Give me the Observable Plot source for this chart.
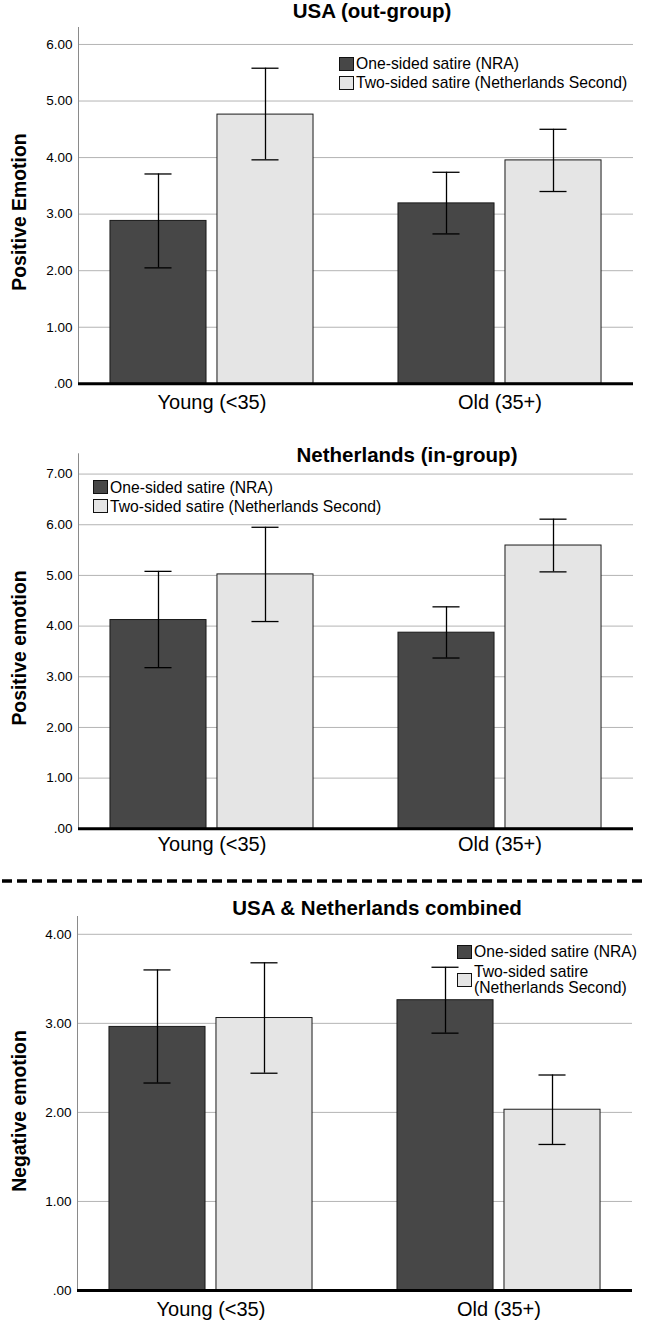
<!DOCTYPE html>
<html><head><meta charset="utf-8">
<script src="https://cdn.jsdelivr.net/npm/d3@7"></script>
<script src="https://cdn.jsdelivr.net/npm/@observablehq/plot@0.6"></script>
<style>
html,body{margin:0;padding:0;background:#fff;}
#root{position:relative;width:646px;height:1321px;overflow:hidden;font-family:"Liberation Sans",Arial,sans-serif;color:#000;}
#root svg.plot{position:absolute;left:0;}
.abs{position:absolute;}
.title{font-weight:bold;font-size:20.5px;line-height:20px;white-space:nowrap;transform:translateX(-50%);}
.ylab{font-weight:bold;font-size:19.4px;line-height:19.4px;white-space:nowrap;transform:translate(-50%,-50%) rotate(-90deg);}
.leg{display:flex;align-items:center;font-size:15.7px;white-space:nowrap;}
.sw{width:15px;height:14px;box-sizing:border-box;border:1px solid #111;margin-right:2px;flex:none;}
</style></head><body><div id="root"></div><script>
// ---------- data ----------
const groups = ["Young (<35)", "Old (35+)"];
const conditions = ["One-sided satire (NRA)", "Two-sided satire (Netherlands Second)"];
const barColors = ["#474747", "#e5e5e5"];

// order of values: Young/One-sided, Young/Two-sided, Old/One-sided, Old/Two-sided
const usaMean = [2.88, 4.76, 3.19, 3.95];
const usaLow  = [2.05, 3.96, 2.65, 3.40];
const usaHigh = [3.71, 5.58, 3.74, 4.50];
const usaTicks = [0, 1, 2, 3, 4, 5, 6];

const nlMean = [4.12, 5.02, 3.87, 5.59];
const nlLow  = [3.18, 4.09, 3.37, 5.07];
const nlHigh = [5.08, 5.95, 4.38, 6.11];
const nlTicks = [0, 1, 2, 3, 4, 5, 6, 7];

const combMean = [2.96, 3.06, 3.26, 2.03];
const combLow  = [2.33, 2.44, 2.89, 1.64];
const combHigh = [3.60, 3.68, 3.63, 2.42];
const combTicks = [0, 1, 2, 3, 4];

const titles = ["USA (out-group)", "Netherlands (in-group)", "USA & Netherlands combined"];
const yLabels = ["Positive Emotion", "Positive emotion", "Negative emotion"];

// ---------- helpers ----------
function rows(mean, low, high) {
  return mean.map((m, i) => ({group: groups[Math.floor(i / 2)], cond: conditions[i % 2], mean: m, lo: low[i], hi: high[i]}));
}
const fmt = d => d === 0 ? ".00" : d.toFixed(2);
const root = document.getElementById("root");

function panel(data, ticks, L) {
  const one = data.filter(d => d.cond === conditions[0]);
  const two = data.filter(d => d.cond === conditions[1]);
  const svg = Plot.plot({
    width: 646, height: L.height,
    marginTop: L.mt, marginBottom: L.mb, marginLeft: L.ml, marginRight: L.mr,
    style: {fontFamily: "'Liberation Sans', Arial, sans-serif", background: "transparent", color: "#000", overflow: "visible"},
    x: {domain: groups, paddingInner: 0.295, paddingOuter: 0.111, round: false, label: null},
    y: {domain: [0, L.yMax], label: null},
    color: {domain: conditions, range: barColors},
    marks: [
      Plot.gridY(ticks.filter(t => t > 0), {stroke: "#b4b4b4", strokeOpacity: 1, strokeWidth: 1}),
      Plot.frame({anchor: "left", stroke: "#8a8a8a", strokeWidth: 1}),
      Plot.barY(one, {x: "group", y: "mean", fill: "cond", stroke: "#1a1a1a", strokeWidth: 1, insetRight: 107}),
      Plot.barY(two, {x: "group", y: "mean", fill: "cond", stroke: "#1a1a1a", strokeWidth: 1, insetLeft: 107}),
      Plot.ruleX(one, {x: "group", y1: "lo", y2: "hi", dx: -53.5, stroke: "#000", strokeWidth: 1.3}),
      Plot.ruleX(two, {x: "group", y1: "lo", y2: "hi", dx: 53.5, stroke: "#000", strokeWidth: 1.3}),
      Plot.tickY(one, {x: "group", y: "hi", insetLeft: 34.5, insetRight: 141.5, stroke: "#000", strokeWidth: 1.3}),
      Plot.tickY(one, {x: "group", y: "lo", insetLeft: 34.5, insetRight: 141.5, stroke: "#000", strokeWidth: 1.3}),
      Plot.tickY(two, {x: "group", y: "hi", insetLeft: 141.5, insetRight: 34.5, stroke: "#000", strokeWidth: 1.3}),
      Plot.tickY(two, {x: "group", y: "lo", insetLeft: 141.5, insetRight: 34.5, stroke: "#000", strokeWidth: 1.3}),
      Plot.ruleY([0], {stroke: "#000", strokeWidth: 3}),
      Plot.axisY(ticks, {tickSize: 0, tickPadding: 6, fontSize: 13.5, tickFormat: fmt, label: null, fill: "#000"}),
      Plot.axisX({tickSize: 0, tickPadding: L.labelPad, fontSize: 20, label: null, fill: "#000"})
    ]
  });
  svg.classList.add("plot");
  svg.style.top = L.top + "px";
  root.appendChild(svg);
}

function addDiv(cls, text, left, top) {
  const d = document.createElement("div");
  d.className = "abs " + cls;
  d.style.left = left + "px";
  d.style.top = top + "px";
  d.textContent = text;
  root.appendChild(d);
  return d;
}

function legendItem(condIndex, lines, left, top, lineHeight) {
  const d = document.createElement("div");
  d.className = "abs leg";
  d.style.left = left + "px";
  d.style.top = top + "px";
  d.style.lineHeight = lineHeight + "px";
  const sw = document.createElement("div");
  sw.className = "sw";
  sw.style.background = barColors[condIndex];
  const t = document.createElement("div");
  lines.forEach((ln, i) => { if (i) t.appendChild(document.createElement("br")); t.appendChild(document.createTextNode(ln)); });
  d.appendChild(sw); d.appendChild(t);
  root.appendChild(d);
}

// ---------- panels ----------
panel(rows(usaMean, usaLow, usaHigh), usaTicks,
  {top: 0, height: 420, mt: 27, mb: 36.7, ml: 78, mr: 13, yMax: 6.3, labelPad: 10.7});
panel(rows(nlMean, nlLow, nlHigh), nlTicks,
  {top: 420, height: 440, mt: 33.3, mb: 31.7, ml: 78, mr: 13, yMax: 7.4, labelPad: 8.4});
panel(rows(combMean, combLow, combHigh), combTicks,
  {top: 890, height: 431, mt: 26, mb: 31, ml: 77, mr: 14, yMax: 4.2, labelPad: 11.7});

// dashed separator
const ns = "http://www.w3.org/2000/svg";
const sep = document.createElementNS(ns, "svg");
sep.setAttribute("width", 646); sep.setAttribute("height", 10);
sep.style.position = "absolute"; sep.style.left = "0px"; sep.style.top = "876px";
const ln = document.createElementNS(ns, "line");
ln.setAttribute("x1", 2); ln.setAttribute("x2", 646); ln.setAttribute("y1", 5); ln.setAttribute("y2", 5);
ln.setAttribute("stroke", "#000"); ln.setAttribute("stroke-width", 3.5); ln.setAttribute("stroke-dasharray", "10 5");
sep.appendChild(ln); root.appendChild(sep);

// titles
addDiv("title", titles[0], 372, 1.2);
addDiv("title", titles[1], 407, 444.9);
addDiv("title", titles[2], 377, 898.4);

// y labels
addDiv("ylab", yLabels[0], 19.5, 212);
addDiv("ylab", yLabels[1], 19.5, 648);
addDiv("ylab", yLabels[2], 19.5, 1111);

// legends
legendItem(0, [conditions[0]], 339, 54.05, 19.3);
legendItem(1, [conditions[1]], 339, 73.35, 19.3);
legendItem(0, [conditions[0]], 93, 477.85, 19.3);
legendItem(1, [conditions[1]], 93, 496.85, 19.3);
legendItem(0, [conditions[0]], 457, 942.35, 19.3);
const splitAt = conditions[1].indexOf(" (");
legendItem(1, [conditions[1].slice(0, splitAt), conditions[1].slice(splitAt + 1)], 457, 963.7, 16);
</script></body></html>
